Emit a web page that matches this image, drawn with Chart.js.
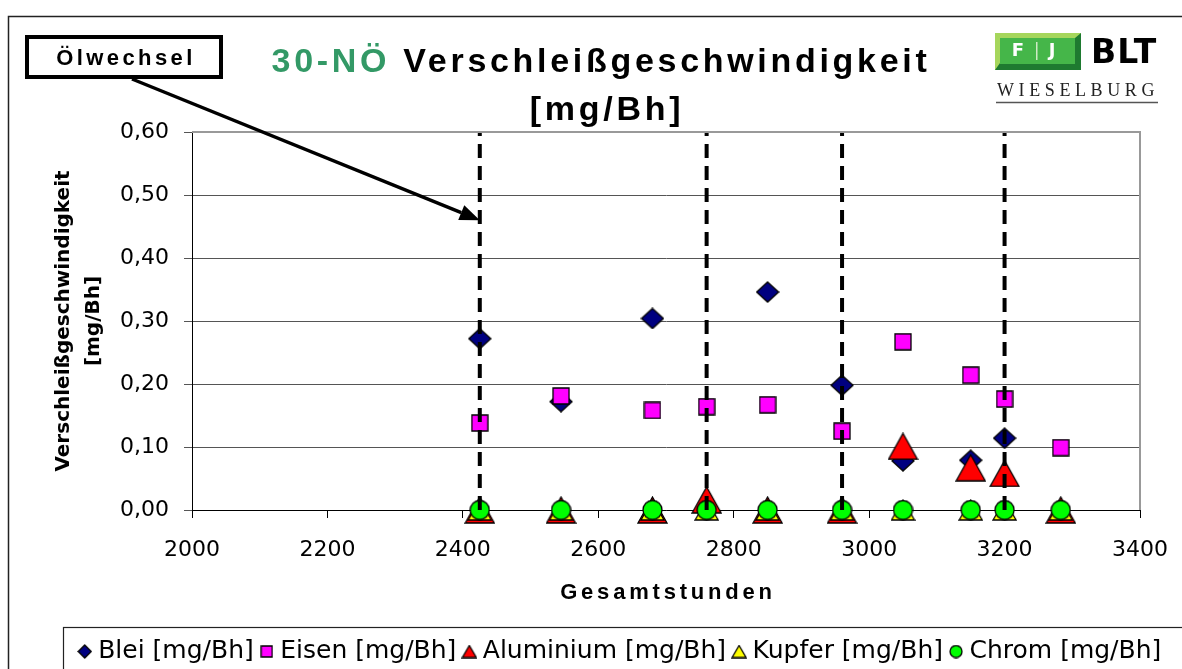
<!DOCTYPE html>
<html>
<head>
<meta charset="utf-8">
<script src="https://cdn.jsdelivr.net/npm/chart.js@4.4.0/dist/chart.umd.min.js"></script>
<style>
html, body { margin: 0; padding: 0; background: #fff; }
#wrap { width: 1182px; height: 669px; position: relative; }
</style>
</head>
<body>
<div id="wrap"><canvas id="wear_canvas" width="1182" height="669"></canvas></div>
<script>
// Gesamtstunden der Messpunkte
var stunden = [2425, 2545, 2680, 2760, 2850, 2960, 3050, 3150, 3200, 3283];
// Verschleissgeschwindigkeit [mg/Bh]
var blei      = [0.272, 0.172, 0.304, null, 0.346, 0.198, 0.078, 0.079, 0.114, null];
var eisen     = [0.138, 0.181, 0.158, 0.164, 0.167, 0.125, 0.267, 0.214, 0.176, 0.099];
var aluminium = [0, 0, 0, 0.016, 0, 0, 0.101, 0.067, 0.058, 0];
var kupfer    = [0, 0, 0, 0, 0, 0, 0, 0, 0, 0];
var chrom     = [0, 0, 0, 0, 0, 0, 0, 0, 0, 0];
// Oelwechsel bei
var oelwechsel = [2425, 2760, 2960, 3200];
var oelwechselPfeil = 0.46;

var xTicks = [2000, 2200, 2400, 2600, 2800, 3000, 3200, 3400];
var yTicks = [0, 0.1, 0.2, 0.3, 0.4, 0.5, 0.6];

var seriesLabels = ["Blei [mg/Bh]", "Eisen [mg/Bh]", "Aluminium [mg/Bh]", "Kupfer [mg/Bh]", "Chrom [mg/Bh]"];
var seriesColors = ["#000080", "#ff00ff", "#ff0000", "#ffff00", "#00ff00"];

Chart.defaults.font.family = "'DejaVu Sans', sans-serif";
Chart.defaults.color = "#000";

function makeMarker(shape, w, h, fill){
	var c = document.createElement("canvas");
	c.width = w; c.height = h;
	var g = c.getContext("2d");
	g.fillStyle = fill;
	g.strokeStyle = "#000";
	g.lineWidth = 1.3;
	g.lineJoin = "miter";
	var m = 1;
	g.beginPath();
	if(shape === "diamond"){
		g.moveTo(w/2, m); g.lineTo(w-m, h/2); g.lineTo(w/2, h-m); g.lineTo(m, h/2); g.closePath();
	} else if(shape === "square"){
		g.rect(m, m, w-2*m, h-2*m);
	} else if(shape === "triangle"){
		g.moveTo(w/2, m); g.lineTo(w-m, h-m); g.lineTo(m, h-m); g.closePath();
	} else {
		g.arc(w/2, h/2, w/2-m, 0, Math.PI*2);
	}
	g.fill(); g.stroke();
	return c;
}

var plotMarkers = [
	makeMarker("diamond", 24, 22, seriesColors[0]),
	makeMarker("square", 18, 18, seriesColors[1]),
	makeMarker("triangle", 31, 28, seriesColors[2]),
	makeMarker("triangle", 25, 22, seriesColors[3]),
	makeMarker("circle", 21, 21, seriesColors[4])
];
var legendMarkers = [
	makeMarker("diamond", 15, 15, seriesColors[0]),
	makeMarker("square", 13, 13, seriesColors[1]),
	makeMarker("triangle", 16, 14, seriesColors[2]),
	makeMarker("triangle", 16, 14, seriesColors[3]),
	makeMarker("circle", 14, 14, seriesColors[4])
];

function points(values){
	var out = [];
	for(var i = 0; i < stunden.length; i++){
		if(values[i] !== null) out.push({x: stunden[i], y: values[i]});
	}
	return out;
}

var series = [blei, eisen, aluminium, kupfer, chrom];
var datasets = [];
for(var s = 0; s < series.length; s++){
	datasets.push({
		label: seriesLabels[s],
		data: points(series[s]),
		backgroundColor: seriesColors[s],
		borderColor: "#000",
		pointStyle: plotMarkers[s],
		pointRadius: 10,
		pointHoverRadius: 10,
		clip: false,
		order: 10 - s
	});
}
for(var o = 0; o < oelwechsel.length; o++){
	datasets.push({
		label: "Ölwechsel",
		type: "line",
		data: [{x: oelwechsel[o], y: yTicks[0]}, {x: oelwechsel[o], y: yTicks[yTicks.length-1]}],
		borderColor: "#000",
		borderWidth: 4,
		borderDash: [14, 8],
		pointRadius: 0,
		fill: false,
		clip: false,
		order: 0
	});
}

var decorations = {
	id: "decorations",
	afterDraw: function(chart){
		var ctx = chart.ctx;
		var area = chart.chartArea;
		ctx.save();

		// outer frame
		ctx.strokeStyle = "#222";
		ctx.lineWidth = 1.5;
		ctx.strokeRect(8.5, 16.5, 1200, 700);

		// plot area frame top / right
		ctx.strokeStyle = "#999";
		ctx.lineWidth = 2;
		ctx.beginPath();
		ctx.moveTo(area.left, area.top);
		ctx.lineTo(area.right, area.top);
		ctx.lineTo(area.right, area.bottom);
		ctx.stroke();

		// legend frame
		var lg = chart.legend;
		ctx.strokeStyle = "#222";
		ctx.lineWidth = 1.2;
		ctx.strokeRect(lg.left + 0.5, lg.top + 0.5, 1300, 100);

		// title
		ctx.letterSpacing = "3.7px";
		ctx.font = "bold 34px 'Liberation Sans', Arial, sans-serif";
		ctx.textBaseline = "alphabetic";
		ctx.textAlign = "left";
		var part1 = "30-NÖ", part2 = " Verschleißgeschwindigkeit";
		var w1 = ctx.measureText(part1).width, w2 = ctx.measureText(part2).width;
		var tx = 601 - (w1 + w2) / 2;
		ctx.fillStyle = "#339966";
		ctx.fillText(part1, tx, 72);
		ctx.fillStyle = "#000";
		ctx.fillText(part2, tx + w1, 72);
		ctx.textAlign = "center";
		ctx.fillText("[mg/Bh]", 607, 120);

		// x axis title
		ctx.letterSpacing = "3.8px";
		ctx.font = "bold 22px 'Liberation Sans', Arial, sans-serif";
		ctx.fillText("Gesamtstunden", (area.left + area.right) / 2 + 2, 599);

		// Oelwechsel box + arrow
		ctx.strokeStyle = "#000";
		ctx.lineWidth = 4;
		ctx.strokeRect(27, 37, 194, 40);
		ctx.font = "bold 22px 'Liberation Sans', Arial, sans-serif";
		ctx.letterSpacing = "3.4px";
		ctx.fillText("Ölwechsel", 126, 65);
		ctx.letterSpacing = "0px";

		var x0 = 132, y0 = 79;
		var x1 = chart.scales.x.getPixelForValue(oelwechsel[0]);
		var y1 = chart.scales.y.getPixelForValue(oelwechselPfeil);
		var ang = Math.atan2(y1 - y0, x1 - x0);
		var headLen = 20, headW = 8;
		var bx = x1 - Math.cos(ang) * headLen, by = y1 - Math.sin(ang) * headLen;
		ctx.lineWidth = 3.5;
		ctx.beginPath();
		ctx.moveTo(x0, y0);
		ctx.lineTo(bx, by);
		ctx.stroke();
		ctx.fillStyle = "#000";
		ctx.beginPath();
		ctx.moveTo(x1, y1);
		ctx.lineTo(bx + Math.sin(ang) * headW, by - Math.cos(ang) * headW);
		ctx.lineTo(bx - Math.sin(ang) * headW, by + Math.cos(ang) * headW);
		ctx.closePath();
		ctx.fill();

		// logo
		var lx = 995, ly = 33;
		ctx.fillStyle = "#1e7a30";
		ctx.fillRect(lx, ly, 86, 37);
		ctx.fillStyle = "#a6d65c";
		ctx.beginPath();
		ctx.moveTo(lx, ly); ctx.lineTo(lx + 86, ly); ctx.lineTo(lx + 80, ly + 5); ctx.lineTo(lx + 5, ly + 5); ctx.lineTo(lx + 5, ly + 30); ctx.lineTo(lx, ly + 37);
		ctx.closePath(); ctx.fill();
		ctx.fillStyle = "#45b649";
		ctx.fillRect(lx + 5, ly + 5, 75, 26);
		ctx.fillStyle = "#fff";
		ctx.font = "bold 18px 'DejaVu Sans', sans-serif";
		ctx.letterSpacing = "2px";
		ctx.textBaseline = "middle";
		ctx.fillText("F", lx + 24, ly + 18);
		ctx.fillText("J", lx + 58, ly + 18);
		ctx.fillStyle = "#cfe9c5";
		ctx.fillRect(lx + 41, ly + 9, 1.5, 18);
		ctx.fillStyle = "#000";
		ctx.textAlign = "left";
		ctx.textBaseline = "alphabetic";
		ctx.letterSpacing = "1px";
		ctx.font = "bold 33px 'DejaVu Sans', sans-serif";
		ctx.fillText("BLT", 1091, 63);
		ctx.font = "18px 'Liberation Serif', serif";
		ctx.letterSpacing = "4.6px";
		ctx.fillStyle = "#222";
		ctx.fillText("WIESELBURG", 997, 96);
		ctx.letterSpacing = "0px";
		ctx.strokeStyle = "#555";
		ctx.lineWidth = 1.5;
		ctx.beginPath();
		ctx.moveTo(996, 102.5); ctx.lineTo(1158, 102.5);
		ctx.stroke();

		ctx.restore();
	}
};

var wear_chart = new Chart(document.getElementById("wear_canvas"), {
	type: "scatter",
	data: { datasets: datasets },
	options: {
		responsive: false,
		animation: false,
		events: [],
		devicePixelRatio: 1,
		layout: { padding: { left: 63, top: 132, right: 0, bottom: -5 } },
		plugins: {
			title: { display: false },
			tooltip: { enabled: false },
			legend: {
				position: "bottom",
				labels: {
					usePointStyle: true,
					boxWidth: 2,
					padding: 12,
					color: "#000",
					font: { size: 25 },
					generateLabels: function(chart){
						return chart.data.datasets.slice(0, seriesLabels.length).map(function(ds, i){
							return {
								text: ds.label,
								pointStyle: legendMarkers[i],
								fillStyle: ds.backgroundColor,
								strokeStyle: "#000",
								lineWidth: 1,
								hidden: false,
								datasetIndex: i,
								fontColor: "#000"
							};
						});
					}
				}
			}
		},
		scales: {
			x: {
				type: "linear",
				min: xTicks[0],
				max: xTicks[xTicks.length-1],
				afterBuildTicks: function(scale){ scale.ticks = xTicks.map(function(v){ return {value: v}; }); },
				afterFit: function(scale){ scale.height = 117; scale.paddingLeft = 0; scale.paddingRight = 0; },
				grid: { drawOnChartArea: false, color: "#000", tickLength: 8 },
				border: { color: "#000", width: 1 },
				ticks: { font: { size: 22 }, padding: 19, color: "#000", maxRotation: 0, callback: function(v){ return String(v); } }
			},
			y: {
				type: "linear",
				min: yTicks[0],
				max: yTicks[yTicks.length-1],
				afterBuildTicks: function(scale){ scale.ticks = yTicks.map(function(v){ return {value: v}; }); },
				afterFit: function(scale){ scale.width = 129; },
				grid: { color: "#555", tickLength: 8 },
				border: { color: "#000", width: 1 },
				ticks: { font: { size: 22 }, padding: 15, color: "#000", callback: function(v){ return v.toFixed(2).replace(".", ","); } },
				title: {
					display: true,
					text: ["Verschleißgeschwindigkeit", "[mg/Bh]"],
					font: { size: 20, weight: "bold", lineHeight: 1.5 },
					color: "#000",
					padding: { top: -14, bottom: 0 }
				}
			},
			yRight: {
				position: "right",
				display: true,
				afterFit: function(scale){ scale.width = 42; },
				ticks: { display: false },
				grid: { display: false },
				border: { display: false }
			}
		}
	},
	plugins: [decorations]
});
</script>
</body>
</html>
